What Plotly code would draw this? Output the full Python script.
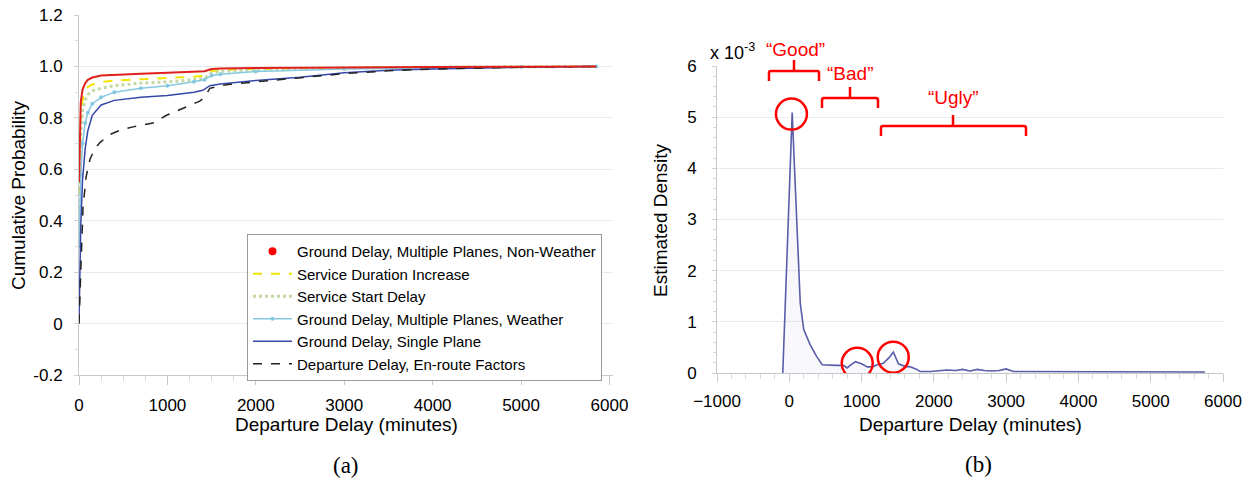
import plotly.graph_objects as go

# page body has an 8px margin, so the figure is drawn 8px right/down in the window
OFF = 8
W, H = 1251 - OFF, 479 - OFF
FONT = "Liberation Sans, Arial, sans-serif"

# ---------------- data: panel (a) cumulative probability ----------------
x_std = [0, 10, 20, 40, 70, 100, 150, 250, 400, 700, 1000, 1300, 1420, 1500, 1600, 2000, 3000, 4000, 5000, 5850]
y_nonweather = [0.55, 0.75, 0.86, 0.91, 0.935, 0.948, 0.957, 0.965, 0.968, 0.972, 0.975, 0.978, 0.981, 0.99, 0.992, 0.994, 0.997, 0.998, 0.999, 1.0]
y_service_dur = [0.5, 0.68, 0.8, 0.87, 0.905, 0.92, 0.93, 0.94, 0.945, 0.95, 0.955, 0.96, 0.965, 0.982, 0.986, 0.99, 0.995, 0.997, 0.999, 1.0]
y_service_start = [0.45, 0.62, 0.74, 0.83, 0.87, 0.89, 0.905, 0.915, 0.925, 0.935, 0.94, 0.948, 0.955, 0.975, 0.98, 0.987, 0.994, 0.997, 0.999, 1.0]
y_weather = [0.3, 0.45, 0.58, 0.7, 0.78, 0.82, 0.855, 0.88, 0.9, 0.915, 0.925, 0.94, 0.948, 0.965, 0.97, 0.98, 0.99, 0.995, 0.998, 1.0]

x_single = [0, 10, 20, 40, 70, 100, 150, 250, 400, 700, 1000, 1300, 1400, 1480, 1600, 2000, 2500, 3000, 3500, 4000, 5000, 5850]
y_single = [0.0, 0.2, 0.38, 0.56, 0.68, 0.75, 0.81, 0.85, 0.868, 0.88, 0.887, 0.9, 0.907, 0.925, 0.932, 0.945, 0.958, 0.975, 0.985, 0.99, 0.997, 1.0]

x_enroute = [0, 20, 45, 80, 125, 180, 240, 350, 450, 610, 836, 990, 1220, 1367, 1420, 1480, 1600, 1740, 2000, 2500, 3000, 3500, 4000, 5000, 5850]
y_enroute = [0.0, 0.2, 0.45, 0.57, 0.64, 0.68, 0.705, 0.735, 0.75, 0.765, 0.78, 0.81, 0.845, 0.865, 0.88, 0.915, 0.925, 0.932, 0.94, 0.955, 0.972, 0.983, 0.99, 0.997, 1.0]

names = ["Ground Delay, Multiple Planes, Non-Weather", "Service Duration Increase",
         "Service Start Delay", "Ground Delay, Multiple Planes, Weather",
         "Ground Delay, Single Plane", "Departure Delay, En-route Factors"]

a_yticks = [-0.2, 0, 0.2, 0.4, 0.6, 0.8, 1.0, 1.2]
a_yticktext = ["-0.2", "0", "0.2", "0.4", "0.6", "0.8", "1.0", "1.2"]
a_xticks = [0, 1000, 2000, 3000, 4000, 5000, 6000]

# ---------------- data: panel (b) estimated density (x 10^-3) ----------------
x_density = [-90, 40, 152, 200, 290, 380, 456, 550, 650, 750, 800, 860, 915, 1000, 1080, 1150, 1217,
             1300, 1380, 1440, 1510, 1600, 1673, 1750, 1812, 1950, 2100, 2185, 2300, 2400, 2500, 2600,
             2700, 2800, 2900, 3000, 3100, 3300, 3600, 4000, 4500, 5000, 5500, 5750]
y_density = [0, 5.09, 1.36, 0.85, 0.55, 0.32, 0.16, 0.15, 0.15, 0.15, 0.1, 0.17, 0.22, 0.18, 0.12, 0.12, 0.16,
             0.19, 0.3, 0.41, 0.18, 0.13, 0.12, 0.08, 0.03, 0.03, 0.05, 0.06, 0.05, 0.07, 0.04, 0.07,
             0.05, 0.04, 0.05, 0.08, 0.03, 0.03, 0.02, 0.02, 0.02, 0.02, 0.02, 0.02]
b_xticks = [-1000, 0, 1000, 2000, 3000, 4000, 5000, 6000]
b_yticks = [0, 1, 2, 3, 4, 5, 6]

# highlighted modes (data coords) and region labels
circle_x = [30, 940, 1438]
circle_y = [5.06, 0.19, 0.31]
regions = ["“Good”", "“Bad”", "“Ugly”"]


def px(x):
    return (x - OFF) / W


def py(y):
    return 1 - (y - OFF) / H


fig = go.Figure()

# legend-only entry for the red series (legend shows a dot)
fig.add_trace(go.Scatter(x=[None], y=[None], mode="markers", name=names[0],
                         marker=dict(color="#ff0000", size=8)))
fig.add_trace(go.Scatter(x=x_std, y=y_service_dur, mode="lines", name=names[1],
                         line=dict(color="#f2e400", width=2, dash="dash")))
fig.add_trace(go.Scatter(x=x_std, y=y_service_start, mode="lines", name=names[2],
                         line=dict(color="#c3d9a5", width=3, dash="dot")))
fig.add_trace(go.Scatter(x=x_std, y=y_weather, mode="lines+markers", name=names[3],
                         line=dict(color="#86c8e0", width=1.5),
                         marker=dict(color="#86c8e0", size=4)))
fig.add_trace(go.Scatter(x=x_single, y=y_single, mode="lines", name=names[4],
                         line=dict(color="#3548a8", width=1.5)))
fig.add_trace(go.Scatter(x=x_enroute, y=y_enroute, mode="lines", name=names[5],
                         line=dict(color="#222222", width=1.5, dash="dash")))
fig.add_trace(go.Scatter(x=x_std, y=y_nonweather, mode="lines", name=names[0], showlegend=False,
                         line=dict(color="#e0201c", width=2)))

fig.add_trace(go.Scatter(x=x_density, y=y_density, mode="lines", xaxis="x2", yaxis="y2",
                         showlegend=False, line=dict(color="#5a5ea8", width=1.6),
                         fill="tozeroy", fillcolor="rgba(210,210,240,0.18)"))

axis_common = dict(showline=True, linecolor="#c8c8c8", linewidth=1, zeroline=False,
                   tickfont=dict(family=FONT, size=17, color="#000"), automargin=False,
                   ticklabeloverflow="allow")

fig.update_layout(
    width=W, height=H,
    margin=dict(l=0, r=0, t=0, b=0),
    paper_bgcolor="white", plot_bgcolor="white",
    font=dict(family=FONT, color="#000"),
    xaxis=dict(domain=[px(79), px(613)], range=[0, 6040], tickvals=a_xticks, showgrid=False,
               ticks="outside", ticklen=9, tickcolor="#c8c8c8",
               minor=dict(dtick=250, ticks="outside", ticklen=5, tickcolor="#d8d8d8"),
               ticklabelstandoff=6, anchor="y", **axis_common),
    yaxis=dict(domain=[py(375), py(15)], range=[-0.2, 1.2], tickvals=a_yticks, ticktext=a_yticktext,
               showgrid=True, gridcolor="#ebebeb", ticks="outside", ticklen=4, tickcolor="#d0d0d0",
               minor=dict(dtick=0.1, ticks="outside", ticklen=3, tickcolor="#d8d8d8"),
               ticklabelstandoff=8, anchor="x", **axis_common),
    xaxis2=dict(domain=[px(717), px(1223)], range=[-1000, 6000], tickvals=b_xticks, showgrid=False,
                ticks="outside", ticklen=8, tickcolor="#c8c8c8",
                minor=dict(dtick=200, ticks="outside", ticklen=5, tickcolor="#d8d8d8"),
                ticklabelstandoff=5, anchor="y2", **axis_common),
    yaxis2=dict(domain=[py(373), py(66)], range=[0, 6], tickvals=b_yticks,
                showgrid=True, gridcolor="#ebebeb", ticks="outside", ticklen=4, tickcolor="#d0d0d0",
                minor=dict(dtick=0.2, ticks="outside", ticklen=3, tickcolor="#d8d8d8"),
                ticklabelstandoff=12, anchor="x2", **axis_common),
    legend=dict(x=px(247), y=py(234), xanchor="left", yanchor="top",
                bgcolor="white", bordercolor="#9a9a9a", borderwidth=1, itemwidth=39,
                font=dict(family=FONT, size=15, color="#000"), tracegroupgap=0),
)

ann = []


def text(x, y, s, size=19, color="#000", angle=0, family=FONT, xanchor="center"):
    ann.append(dict(x=px(x), y=py(y), xref="paper", yref="paper", text=s, showarrow=False,
                    xanchor=xanchor, yanchor="middle", textangle=angle,
                    font=dict(family=family, size=size, color=color)))


text(346, 424, "Departure Delay (minutes)")
text(18, 195, "Cumulative Probability", angle=-90)
text(346, 465, "(a)", size=23, family="Liberation Serif, Times New Roman, serif")
text(970, 424, "Departure Delay (minutes)")
text(660, 220, "Estimated Density", angle=-90)
text(978, 464, "(b)", size=23, family="Liberation Serif, Times New Roman, serif")
text(708, 52, "x 10<sup>-3</sup>", size=18, xanchor="left")

region_text_pos = [(795, 50), (850, 74), (953, 98)]
for (tx, ty), s in zip(region_text_pos, regions):
    text(tx, ty, s, size=19, color="#ff0000")

fig.update_layout(annotations=ann)

shapes = []
for cx, cy in zip(circle_x, circle_y):
    shapes.append(dict(type="circle", xref="x2", yref="y2", xsizemode="pixel", ysizemode="pixel",
                       xanchor=cx, yanchor=cy, x0=-15.5, x1=15.5, y0=-15.5, y1=15.5,
                       line=dict(color="#ff0000", width=2.5)))

# braces (left, right, horizontal y, bottom of ends, middle x, top of middle) in window pixels
braces = [(769, 819, 71, 81, 794, 60), (822, 878, 98, 108, 850, 87), (881, 1026, 126, 136, 953, 115)]
for x0, x1, yh, yb, xm, yt in braces:
    path = (f"M {px(x0)},{py(yb)} L {px(x0)},{py(yh + 2)} Q {px(x0)},{py(yh)} {px(x0 + 2)},{py(yh)} "
            f"L {px(x1 - 2)},{py(yh)} Q {px(x1)},{py(yh)} {px(x1)},{py(yh + 2)} L {px(x1)},{py(yb)} "
            f"M {px(xm)},{py(yh)} L {px(xm)},{py(yt)}")
    shapes.append(dict(type="path", xref="paper", yref="paper", path=path,
                       line=dict(color="#ff0000", width=2.5)))

fig.update_layout(shapes=shapes)

fig.write_html("out.html")
